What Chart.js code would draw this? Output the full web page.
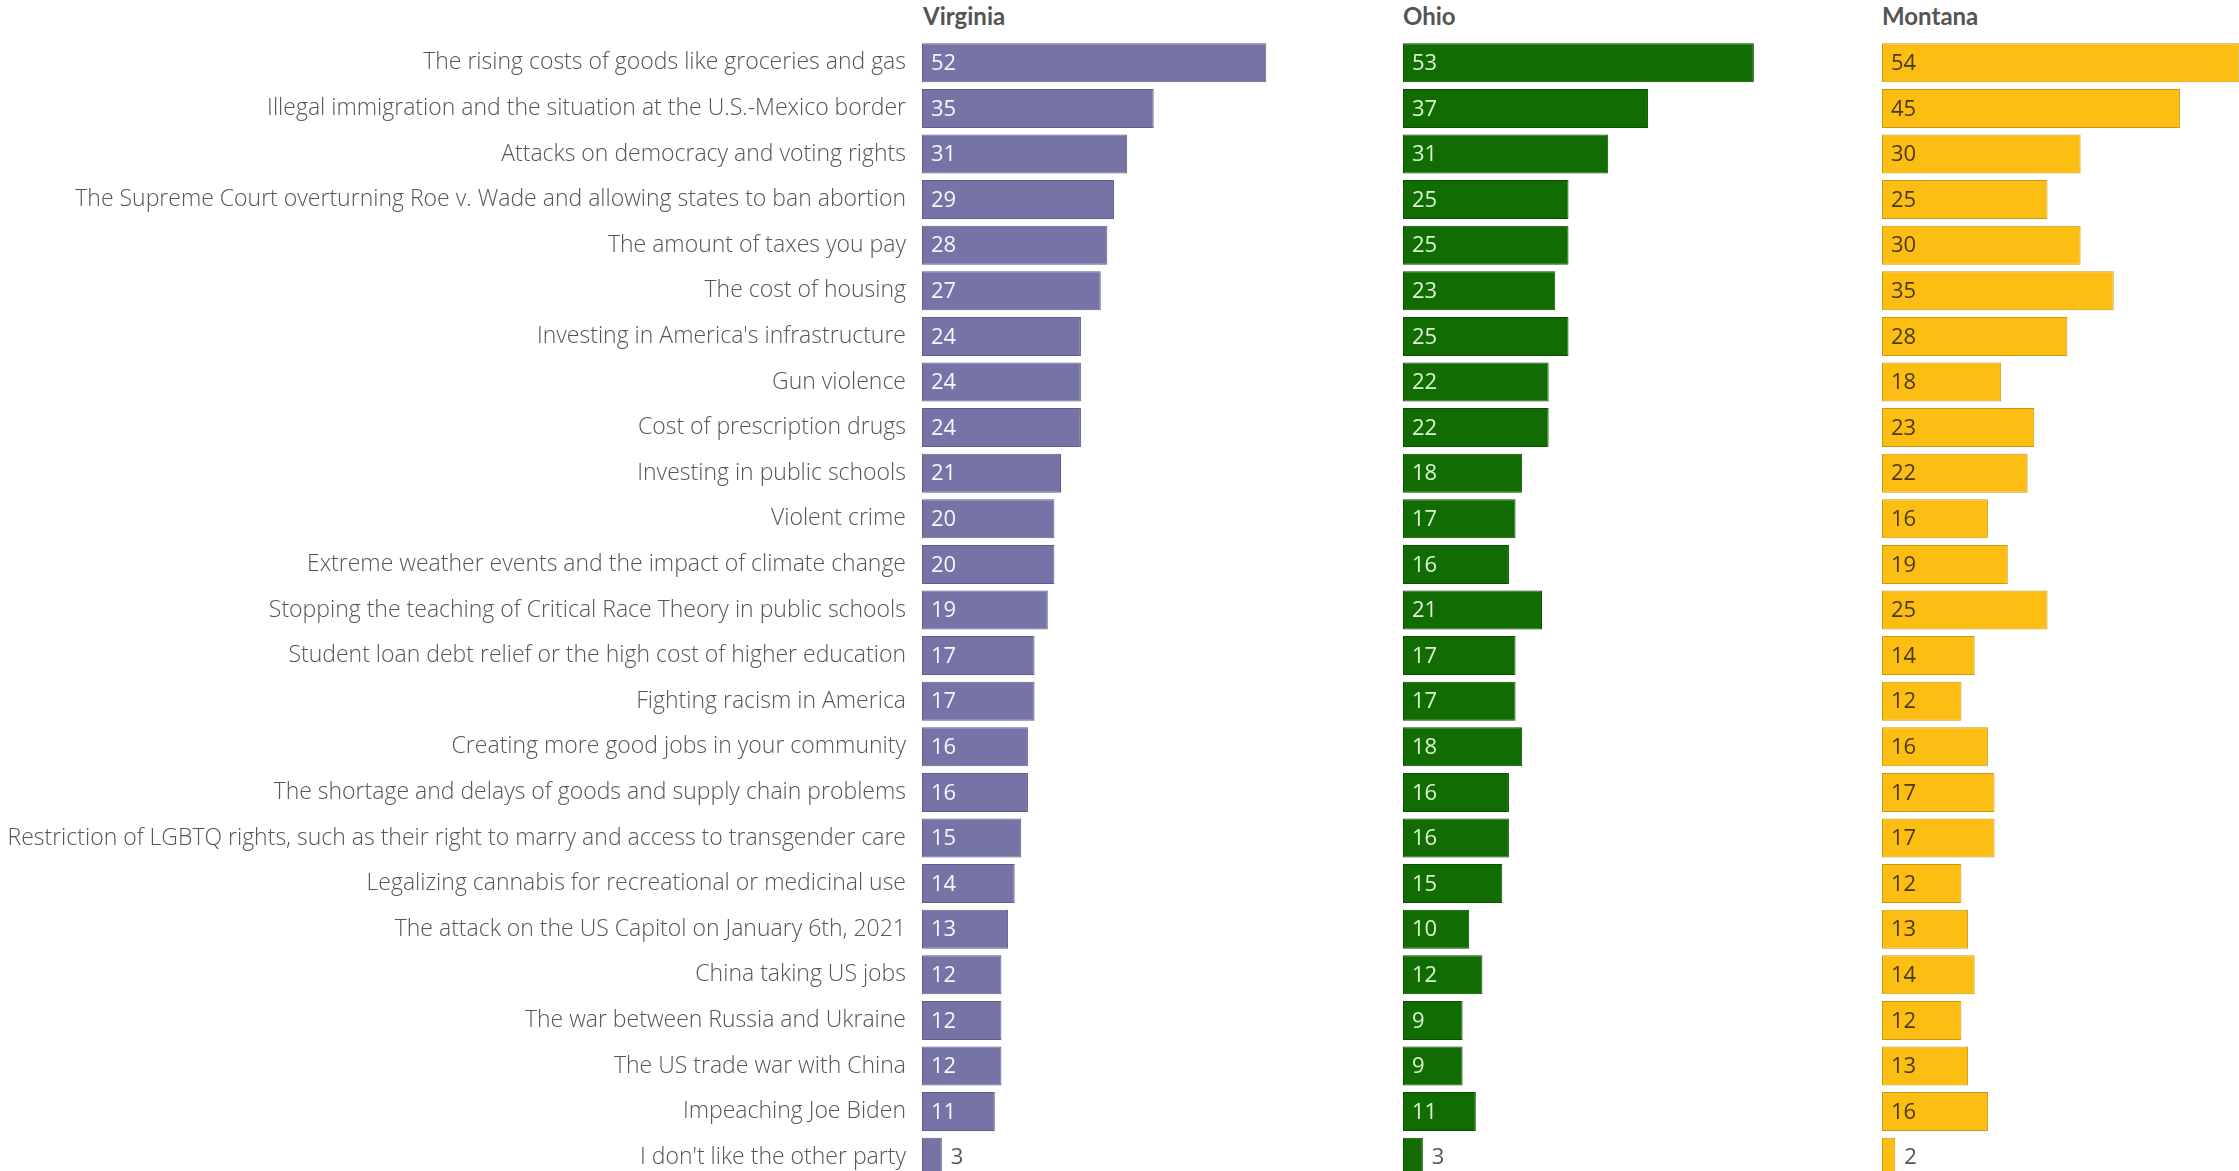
<!DOCTYPE html>
<html>
<head>
<meta charset="utf-8">
<script src="https://cdn.jsdelivr.net/npm/chart.js@4/dist/chart.umd.min.js"></script>
<style>
  body { margin: 0; background: #fff; width: 2239px; height: 1171px; overflow: hidden; position: relative; }
  .panel { position: absolute; top: 0; }
  .head { position: absolute; top: 1px; font: bold 24px Lato, sans-serif; color: #555; }
</style>
</head>
<body>
<div class="head" style="left:923px">Virginia</div>
<div class="head" style="left:1403px">Ohio</div>
<div class="head" style="left:1882px">Montana</div>
<div class="panel" style="left:0"><canvas id="virginia" width="1392" height="1180"></canvas></div>
<div class="panel" style="left:1403px"><canvas id="ohio" width="470" height="1180"></canvas></div>
<div class="panel" style="left:1882px"><canvas id="montana" width="470" height="1180"></canvas></div>
<script>
const issues = [
    "The rising costs of goods like groceries and gas",
    "Illegal immigration and the situation at the U.S.-Mexico border",
    "Attacks on democracy and voting rights",
    "The Supreme Court overturning Roe v. Wade and allowing states to ban abortion",
    "The amount of taxes you pay",
    "The cost of housing",
    "Investing in America's infrastructure",
    "Gun violence",
    "Cost of prescription drugs",
    "Investing in public schools",
    "Violent crime",
    "Extreme weather events and the impact of climate change",
    "Stopping the teaching of Critical Race Theory in public schools",
    "Student loan debt relief or the high cost of higher education",
    "Fighting racism in America",
    "Creating more good jobs in your community",
    "The shortage and delays of goods and supply chain problems",
    "Restriction of LGBTQ rights, such as their right to marry and access to transgender care",
    "Legalizing cannabis for recreational or medicinal use",
    "The attack on the US Capitol on January 6th, 2021",
    "China taking US jobs",
    "The war between Russia and Ukraine",
    "The US trade war with China",
    "Impeaching Joe Biden",
    "I don't like the other party",
];
const virginiaValues = [52, 35, 31, 29, 28, 27, 24, 24, 24, 21, 20, 20, 19, 17, 17, 16, 16, 15, 14, 13, 12, 12, 12, 11, 3];
const ohioValues = [53, 37, 31, 25, 25, 23, 25, 22, 22, 18, 17, 16, 21, 17, 17, 18, 16, 16, 15, 10, 12, 9, 9, 11, 3];
const montanaValues = [54, 45, 30, 25, 30, 35, 28, 18, 23, 22, 16, 19, 25, 14, 12, 16, 17, 17, 12, 13, 14, 12, 13, 16, 2];

const VALUE_FONT = "400 22px 'Open Sans', sans-serif";

// draws the number at the start of each bar (or just after it when the bar is too short)
const valueLabels = {
    id: "valueLabels",
    afterDatasetsDraw(chart, args, opts) {
        const ctx = chart.ctx;
        const meta = chart.getDatasetMeta(0);
        const values = chart.data.datasets[0].data;
        ctx.save();
        ctx.font = VALUE_FONT;
        ctx.textBaseline = "middle";
        ctx.textAlign = "left";
        meta.data.forEach((bar, i) => {
            const txt = String(values[i]);
            const w = ctx.measureText(txt).width;
            if (bar.x - bar.base > w + 16) {
                ctx.fillStyle = opts.inside;
                ctx.fillText(txt, bar.base + 9, bar.y + 1);
            } else {
                ctx.fillStyle = "#555";
                ctx.fillText(txt, bar.x + 9, bar.y + 1);
            }
        });
        ctx.restore();
    },
};

function makeChart(id, values, fill, border, inside, showLabels) {
    return new Chart(document.getElementById(id), {
        type: "bar",
        data: {
            labels: issues,
            datasets: [
                {
                    data: values,
                    backgroundColor: fill,
                    borderColor: border,
                    borderWidth: 1,
                    borderSkipped: false,
                    categoryPercentage: 1,
                    barPercentage: 0.855,
                },
            ],
        },
        options: {
            indexAxis: "y",
            responsive: false,
            animation: false,
            devicePixelRatio: 1,
            layout: { padding: { top: 40, left: 0, right: 0, bottom: 0 } },
            plugins: {
                legend: { display: false },
                tooltip: { enabled: false },
                valueLabels: { inside: inside },
            },
            scales: {
                x: { display: false, min: 0, max: 470 / 6.62 },
                y: {
                    display: showLabels,
                    grid: { display: false, drawTicks: false },
                    border: { display: false },
                    ticks: {
                        padding: 16,
                        color: "#555",
                        font: { family: "'Open Sans'", size: 23, weight: 300 },
                        autoSkip: false,
                    },
                    afterFit: (scale) => {
                        if (!showLabels) return;
                        scale.width = 922;
                        scale.paddingTop = 0;
                        scale.paddingBottom = 0;
                    },
                },
            },
        },
        plugins: [valueLabels],
    });
}

makeChart("virginia", virginiaValues, "#7674a6", "#5f5d8c", "#f6f6fb", true);
makeChart("ohio", ohioValues, "#116d02", "#0b5200", "#dcf3d4", false);
makeChart("montana", montanaValues, "#fcbe12", "#c99a10", "#4a3a0e", false);
</script>
</body>
</html>
